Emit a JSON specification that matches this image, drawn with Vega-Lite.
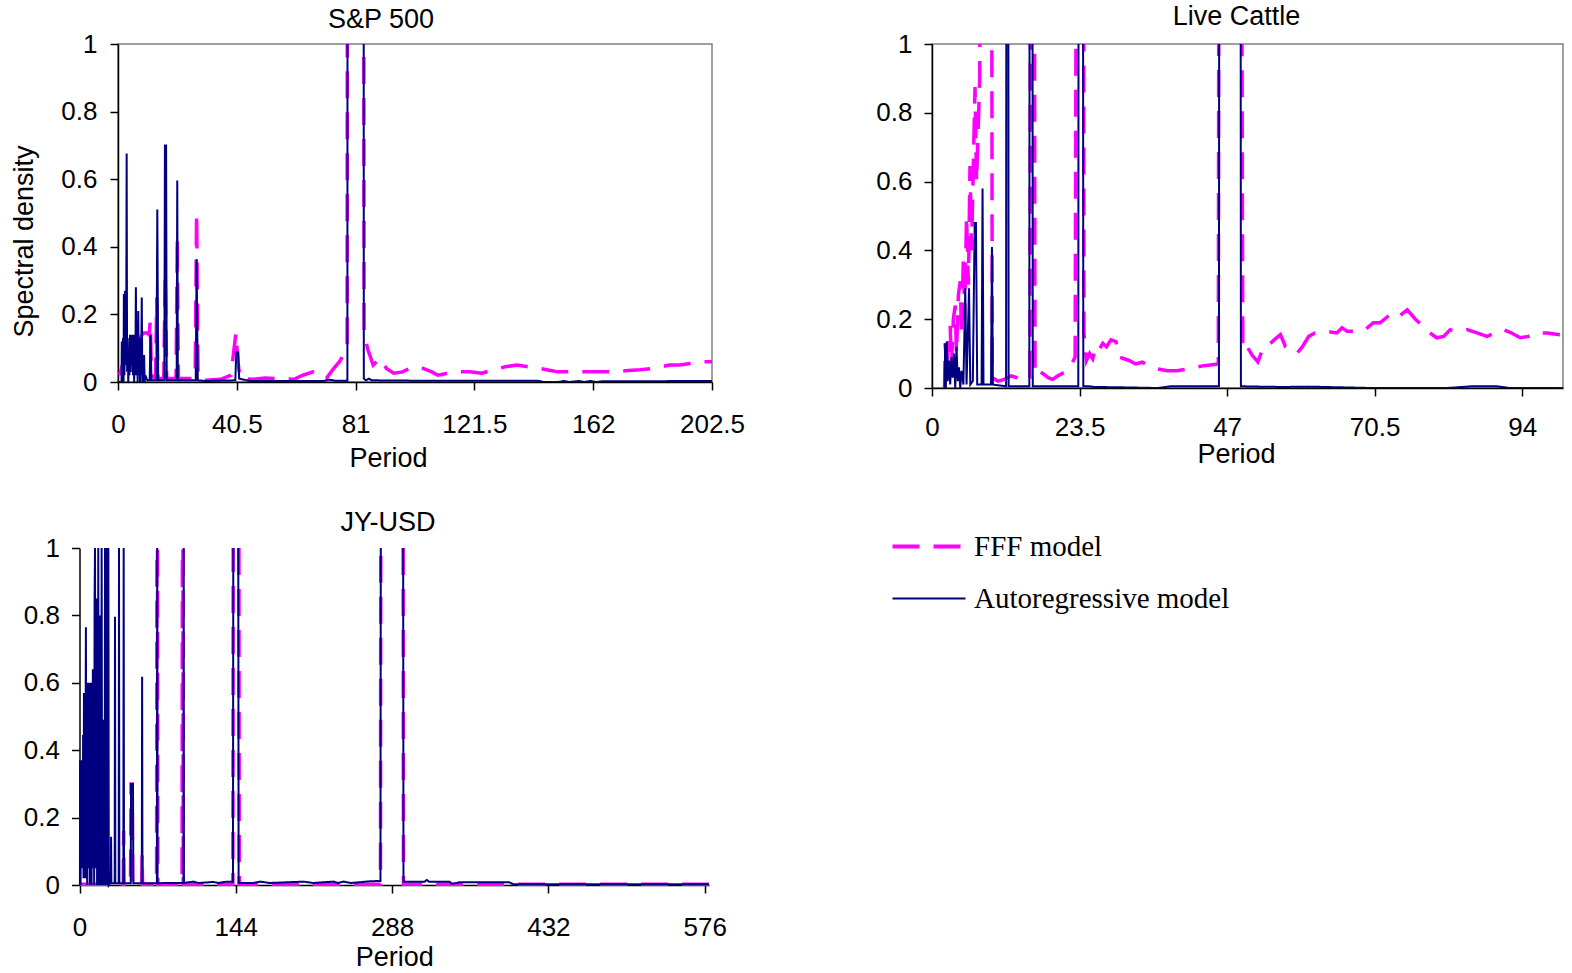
{
  "$schema": "https://vega.github.io/schema/vega-lite/v6.json",
  "padding": {"left": 10, "top": 2, "right": 5, "bottom": 0},
  "background": "white",
  "datasets": {
    "sp": [
      {"period":0.5,"model":"FFF model","density":0.02},{"period":1.5,"model":"FFF model","density":0.05},{"period":3,"model":"FFF model","density":0.08},{"period":4.5,"model":"FFF model","density":0.1},{"period":6,"model":"FFF model","density":0.11},{"period":7.5,"model":"FFF model","density":0.13},{"period":8.6,"model":"FFF model","density":0.145},{"period":10,"model":"FFF model","density":0.145},{"period":10.6,"model":"FFF model","density":0.14},{"period":11,"model":"FFF model","density":0.18},{"period":11.4,"model":"FFF model","density":0.02},{"period":12.8,"model":"FFF model","density":0.01},{"period":13.2,"model":"FFF model","density":0.25},{"period":13.6,"model":"FFF model","density":0.01},{"period":15.6,"model":"FFF model","density":0.01},{"period":16.1,"model":"FFF model","density":0.31},{"period":16.6,"model":"FFF model","density":0.01},{"period":19.8,"model":"FFF model","density":0.01},{"period":20.2,"model":"FFF model","density":0.43},{"period":20.6,"model":"FFF model","density":0.01},{"period":26.3,"model":"FFF model","density":0.01},{"period":26.8,"model":"FFF model","density":0.5},{"period":27.3,"model":"FFF model","density":0.01},{"period":30,"model":"FFF model","density":0.005},{"period":35,"model":"FFF model","density":0.008},{"period":38.5,"model":"FFF model","density":0.02},{"period":40.2,"model":"FFF model","density":0.145},{"period":40.9,"model":"FFF model","density":0.06},{"period":41.6,"model":"FFF model","density":0.01},{"period":46,"model":"FFF model","density":0.008},{"period":50,"model":"FFF model","density":0.012},{"period":55,"model":"FFF model","density":0.01},{"period":60,"model":"FFF model","density":0.008},{"period":63,"model":"FFF model","density":0.02},{"period":66.5,"model":"FFF model","density":0.03},{"period":69,"model":"FFF model","density":0.025},{"period":71,"model":"FFF model","density":0.01},{"period":73.5,"model":"FFF model","density":0.04},{"period":75.5,"model":"FFF model","density":0.06},{"period":77.5,"model":"FFF model","density":0.09},{"period":78.1,"model":"FFF model","density":0.1},{"period":78.3,"model":"FFF model","density":3},{"period":83.6,"model":"FFF model","density":3},{"period":83.9,"model":"FFF model","density":0.145},{"period":85.2,"model":"FFF model","density":0.095},{"period":87,"model":"FFF model","density":0.05},{"period":89.3,"model":"FFF model","density":0.07},{"period":91.5,"model":"FFF model","density":0.04},{"period":94,"model":"FFF model","density":0.026},{"period":97,"model":"FFF model","density":0.03},{"period":100.5,"model":"FFF model","density":0.045},{"period":104,"model":"FFF model","density":0.04},{"period":107,"model":"FFF model","density":0.03},{"period":109,"model":"FFF model","density":0.02},{"period":112,"model":"FFF model","density":0.025},{"period":116,"model":"FFF model","density":0.03},{"period":120,"model":"FFF model","density":0.03},{"period":124,"model":"FFF model","density":0.026},{"period":127.5,"model":"FFF model","density":0.035},{"period":132,"model":"FFF model","density":0.045},{"period":136,"model":"FFF model","density":0.05},{"period":140,"model":"FFF model","density":0.045},{"period":144,"model":"FFF model","density":0.04},{"period":147,"model":"FFF model","density":0.035},{"period":150,"model":"FFF model","density":0.03},{"period":155,"model":"FFF model","density":0.03},{"period":160,"model":"FFF model","density":0.03},{"period":165,"model":"FFF model","density":0.03},{"period":170,"model":"FFF model","density":0.03},{"period":174,"model":"FFF model","density":0.034},{"period":178,"model":"FFF model","density":0.036},{"period":182,"model":"FFF model","density":0.04},{"period":185,"model":"FFF model","density":0.045},{"period":188,"model":"FFF model","density":0.05},{"period":191.6,"model":"FFF model","density":0.05},{"period":195,"model":"FFF model","density":0.055},{"period":198,"model":"FFF model","density":0.06},{"period":202.5,"model":"FFF model","density":0.06},
      {"period":0,"model":"Autoregressive model","density":0},{"period":1.2,"model":"Autoregressive model","density":0},{"period":1.3,"model":"Autoregressive model","density":0.12},{"period":1.5,"model":"Autoregressive model","density":0.0},{"period":1.7,"model":"Autoregressive model","density":0.13},{"period":1.9,"model":"Autoregressive model","density":0.0},{"period":2.0,"model":"Autoregressive model","density":0.26},{"period":2.2,"model":"Autoregressive model","density":0.02},{"period":2.4,"model":"Autoregressive model","density":0.27},{"period":2.6,"model":"Autoregressive model","density":0.05},{"period":2.8,"model":"Autoregressive model","density":0.13},{"period":2.95,"model":"Autoregressive model","density":0.676},{"period":3.1,"model":"Autoregressive model","density":0.03},{"period":3.3,"model":"Autoregressive model","density":0.13},{"period":3.5,"model":"Autoregressive model","density":0.0},{"period":3.7,"model":"Autoregressive model","density":0.1},{"period":3.9,"model":"Autoregressive model","density":0.02},{"period":4.1,"model":"Autoregressive model","density":0.14},{"period":4.3,"model":"Autoregressive model","density":0.03},{"period":4.5,"model":"Autoregressive model","density":0.14},{"period":4.7,"model":"Autoregressive model","density":0.05},{"period":4.9,"model":"Autoregressive model","density":0.14},{"period":5.1,"model":"Autoregressive model","density":0.02},{"period":5.3,"model":"Autoregressive model","density":0.14},{"period":5.5,"model":"Autoregressive model","density":0.0},{"period":5.7,"model":"Autoregressive model","density":0.12},{"period":5.9,"model":"Autoregressive model","density":0.02},{"period":6.1,"model":"Autoregressive model","density":0.28},{"period":6.3,"model":"Autoregressive model","density":0.02},{"period":6.5,"model":"Autoregressive model","density":0.14},{"period":6.7,"model":"Autoregressive model","density":0.0},{"period":6.9,"model":"Autoregressive model","density":0.21},{"period":7.1,"model":"Autoregressive model","density":0.02},{"period":7.3,"model":"Autoregressive model","density":0.13},{"period":7.5,"model":"Autoregressive model","density":0.0},{"period":7.7,"model":"Autoregressive model","density":0.1},{"period":7.9,"model":"Autoregressive model","density":0.02},{"period":8.1,"model":"Autoregressive model","density":0.25},{"period":8.3,"model":"Autoregressive model","density":0.0},{"period":8.5,"model":"Autoregressive model","density":0.08},{"period":8.7,"model":"Autoregressive model","density":0.0},{"period":8.9,"model":"Autoregressive model","density":0.08},{"period":9.1,"model":"Autoregressive model","density":0.0},{"period":9.3,"model":"Autoregressive model","density":0.02},{"period":10,"model":"Autoregressive model","density":0.005},{"period":10.8,"model":"Autoregressive model","density":0.005},{"period":11.1,"model":"Autoregressive model","density":0.14},{"period":11.4,"model":"Autoregressive model","density":0.005},{"period":13.1,"model":"Autoregressive model","density":0.005},{"period":13.4,"model":"Autoregressive model","density":0.51},{"period":13.7,"model":"Autoregressive model","density":0.005},{"period":15.8,"model":"Autoregressive model","density":0.005},{"period":16.0,"model":"Autoregressive model","density":0.7},{"period":16.4,"model":"Autoregressive model","density":0.7},{"period":16.6,"model":"Autoregressive model","density":0.005},{"period":20.0,"model":"Autoregressive model","density":0.005},{"period":20.2,"model":"Autoregressive model","density":0.596},{"period":20.4,"model":"Autoregressive model","density":0.005},{"period":26.5,"model":"Autoregressive model","density":0.005},{"period":26.8,"model":"Autoregressive model","density":0.363},{"period":27.2,"model":"Autoregressive model","density":0.005},{"period":30,"model":"Autoregressive model","density":0.003},{"period":40,"model":"Autoregressive model","density":0.005},{"period":40.3,"model":"Autoregressive model","density":0.087},{"period":41.0,"model":"Autoregressive model","density":0.087},{"period":41.3,"model":"Autoregressive model","density":0.01},{"period":45,"model":"Autoregressive model","density":0.003},{"period":70,"model":"Autoregressive model","density":0.003},{"period":72,"model":"Autoregressive model","density":0.007},{"period":74,"model":"Autoregressive model","density":0.004},{"period":78.2,"model":"Autoregressive model","density":0.004},{"period":78.3,"model":"Autoregressive model","density":3},{"period":83.7,"model":"Autoregressive model","density":3},{"period":83.8,"model":"Autoregressive model","density":0.01},{"period":84.5,"model":"Autoregressive model","density":0.005},{"period":85.5,"model":"Autoregressive model","density":0.01},{"period":86.5,"model":"Autoregressive model","density":0.005},{"period":100,"model":"Autoregressive model","density":0.004},{"period":143,"model":"Autoregressive model","density":0.004},{"period":145,"model":"Autoregressive model","density":0.0},{"period":150,"model":"Autoregressive model","density":0.0},{"period":152,"model":"Autoregressive model","density":0.003},{"period":154,"model":"Autoregressive model","density":0.0},{"period":157,"model":"Autoregressive model","density":0.003},{"period":159,"model":"Autoregressive model","density":0.0},{"period":161,"model":"Autoregressive model","density":0.003},{"period":163,"model":"Autoregressive model","density":0.0},{"period":165,"model":"Autoregressive model","density":0.002},{"period":202.5,"model":"Autoregressive model","density":0.003}
    ],
    "lc": [
      {"period":2.0,"model":"FFF model","density":0},{"period":2.1,"model":"FFF model","density":0.13},{"period":2.4,"model":"FFF model","density":0.04},{"period":2.6,"model":"FFF model","density":0.15},{"period":2.9,"model":"FFF model","density":0.18},{"period":3.1,"model":"FFF model","density":0.06},{"period":3.4,"model":"FFF model","density":0.2},{"period":3.7,"model":"FFF model","density":0.24},{"period":3.9,"model":"FFF model","density":0.1},{"period":4.2,"model":"FFF model","density":0.27},{"period":4.5,"model":"FFF model","density":0.31},{"period":4.7,"model":"FFF model","density":0.15},{"period":5.0,"model":"FFF model","density":0.38},{"period":5.2,"model":"FFF model","density":0.2},{"period":5.5,"model":"FFF model","density":0.5},{"period":5.8,"model":"FFF model","density":0.3},{"period":6.05,"model":"FFF model","density":0.645},{"period":6.3,"model":"FFF model","density":0.4},{"period":6.85,"model":"FFF model","density":0.875},{"period":7.1,"model":"FFF model","density":0.6},{"period":7.6,"model":"FFF model","density":0.9},{"period":8.0,"model":"FFF model","density":3},{"period":9.4,"model":"FFF model","density":3},{"period":9.6,"model":"FFF model","density":0.03},{"period":10.5,"model":"FFF model","density":0.02},{"period":11.5,"model":"FFF model","density":0.025},{"period":12.6,"model":"FFF model","density":0.035},{"period":13.5,"model":"FFF model","density":0.03},{"period":14.5,"model":"FFF model","density":0.02},{"period":15.6,"model":"FFF model","density":0.03},{"period":15.8,"model":"FFF model","density":3},{"period":16.2,"model":"FFF model","density":3},{"period":16.4,"model":"FFF model","density":0.04},{"period":17,"model":"FFF model","density":0.05},{"period":17.8,"model":"FFF model","density":0.04},{"period":18.5,"model":"FFF model","density":0.03},{"period":19.2,"model":"FFF model","density":0.025},{"period":20,"model":"FFF model","density":0.035},{"period":21,"model":"FFF model","density":0.045},{"period":22,"model":"FFF model","density":0.06},{"period":22.8,"model":"FFF model","density":0.09},{"period":23.2,"model":"FFF model","density":3},{"period":24.1,"model":"FFF model","density":3},{"period":24.2,"model":"FFF model","density":0.16},{"period":24.6,"model":"FFF model","density":0.08},{"period":25.1,"model":"FFF model","density":0.1},{"period":25.6,"model":"FFF model","density":0.085},{"period":26.1,"model":"FFF model","density":0.12},{"period":26.6,"model":"FFF model","density":0.11},{"period":27.2,"model":"FFF model","density":0.13},{"period":27.8,"model":"FFF model","density":0.12},{"period":28.5,"model":"FFF model","density":0.14},{"period":29.3,"model":"FFF model","density":0.135},{"period":29.8,"model":"FFF model","density":0.09},{"period":30.6,"model":"FFF model","density":0.085},{"period":31.4,"model":"FFF model","density":0.08},{"period":32.4,"model":"FFF model","density":0.07},{"period":33.5,"model":"FFF model","density":0.075},{"period":34.5,"model":"FFF model","density":0.065},{"period":36,"model":"FFF model","density":0.055},{"period":37.5,"model":"FFF model","density":0.05},{"period":39,"model":"FFF model","density":0.05},{"period":40.6,"model":"FFF model","density":0.055},{"period":42,"model":"FFF model","density":0.06},{"period":43.3,"model":"FFF model","density":0.065},{"period":44.3,"model":"FFF model","density":0.067},{"period":45.6,"model":"FFF model","density":0.07},{"period":45.8,"model":"FFF model","density":3},{"period":49.1,"model":"FFF model","density":3},{"period":49.5,"model":"FFF model","density":0.11},{"period":50.2,"model":"FFF model","density":0.12},{"period":51.0,"model":"FFF model","density":0.095},{"period":51.9,"model":"FFF model","density":0.076},{"period":52.8,"model":"FFF model","density":0.12},{"period":53.6,"model":"FFF model","density":0.125},{"period":54.5,"model":"FFF model","density":0.14},{"period":55.5,"model":"FFF model","density":0.155},{"period":56.3,"model":"FFF model","density":0.12},{"period":57.2,"model":"FFF model","density":0.11},{"period":58.1,"model":"FFF model","density":0.1},{"period":59,"model":"FFF model","density":0.12},{"period":60,"model":"FFF model","density":0.15},{"period":61,"model":"FFF model","density":0.16},{"period":62,"model":"FFF model","density":0.16},{"period":63.4,"model":"FFF model","density":0.163},{"period":64.5,"model":"FFF model","density":0.16},{"period":65.3,"model":"FFF model","density":0.175},{"period":66.1,"model":"FFF model","density":0.165},{"period":67.9,"model":"FFF model","density":0.165},{"period":69,"model":"FFF model","density":0.17},{"period":70.3,"model":"FFF model","density":0.19},{"period":71.4,"model":"FFF model","density":0.19},{"period":72.4,"model":"FFF model","density":0.205},{"period":73.4,"model":"FFF model","density":0.22},{"period":74.5,"model":"FFF model","density":0.21},{"period":75.7,"model":"FFF model","density":0.227},{"period":77,"model":"FFF model","density":0.2},{"period":78.3,"model":"FFF model","density":0.178},{"period":79.3,"model":"FFF model","density":0.16},{"period":80.4,"model":"FFF model","density":0.146},{"period":81.5,"model":"FFF model","density":0.15},{"period":82.5,"model":"FFF model","density":0.169},{"period":83.8,"model":"FFF model","density":0.165},{"period":85.2,"model":"FFF model","density":0.17},{"period":86.8,"model":"FFF model","density":0.16},{"period":88.4,"model":"FFF model","density":0.15},{"period":89.7,"model":"FFF model","density":0.16},{"period":91,"model":"FFF model","density":0.17},{"period":92.3,"model":"FFF model","density":0.16},{"period":93.7,"model":"FFF model","density":0.146},{"period":95,"model":"FFF model","density":0.15},{"period":96,"model":"FFF model","density":0.16},{"period":98,"model":"FFF model","density":0.16},{"period":100,"model":"FFF model","density":0.155},
      {"period":2.0,"model":"Autoregressive model","density":0},{"period":2.1,"model":"Autoregressive model","density":0.13},{"period":2.2,"model":"Autoregressive model","density":0.0},{"period":2.35,"model":"Autoregressive model","density":0.135},{"period":2.5,"model":"Autoregressive model","density":0.02},{"period":2.7,"model":"Autoregressive model","density":0.08},{"period":2.9,"model":"Autoregressive model","density":0.01},{"period":3.1,"model":"Autoregressive model","density":0.09},{"period":3.3,"model":"Autoregressive model","density":0.03},{"period":3.5,"model":"Autoregressive model","density":0.1},{"period":3.7,"model":"Autoregressive model","density":0.0},{"period":3.9,"model":"Autoregressive model","density":0.12},{"period":4.1,"model":"Autoregressive model","density":0.02},{"period":4.3,"model":"Autoregressive model","density":0.06},{"period":4.5,"model":"Autoregressive model","density":0.0},{"period":4.7,"model":"Autoregressive model","density":0.05},{"period":5.0,"model":"Autoregressive model","density":0.01},{"period":5.3,"model":"Autoregressive model","density":0.29},{"period":5.5,"model":"Autoregressive model","density":0.01},{"period":5.9,"model":"Autoregressive model","density":0.29},{"period":6.1,"model":"Autoregressive model","density":0.01},{"period":6.5,"model":"Autoregressive model","density":0.02},{"period":6.8,"model":"Autoregressive model","density":0.48},{"period":7.0,"model":"Autoregressive model","density":0.48},{"period":7.2,"model":"Autoregressive model","density":0.01},{"period":7.9,"model":"Autoregressive model","density":0.01},{"period":8.05,"model":"Autoregressive model","density":0.58},{"period":8.2,"model":"Autoregressive model","density":0.01},{"period":9.4,"model":"Autoregressive model","density":0.01},{"period":9.55,"model":"Autoregressive model","density":0.41},{"period":9.7,"model":"Autoregressive model","density":0.01},{"period":11.8,"model":"Autoregressive model","density":0.005},{"period":11.9,"model":"Autoregressive model","density":3},{"period":12.1,"model":"Autoregressive model","density":3},{"period":12.2,"model":"Autoregressive model","density":0.005},{"period":15.5,"model":"Autoregressive model","density":0.005},{"period":15.6,"model":"Autoregressive model","density":3},{"period":15.95,"model":"Autoregressive model","density":3},{"period":16.05,"model":"Autoregressive model","density":0.005},{"period":23.3,"model":"Autoregressive model","density":0.005},{"period":23.4,"model":"Autoregressive model","density":3},{"period":24.0,"model":"Autoregressive model","density":3},{"period":24.1,"model":"Autoregressive model","density":0.005},{"period":25,"model":"Autoregressive model","density":0.005},{"period":26,"model":"Autoregressive model","density":0.003},{"period":30,"model":"Autoregressive model","density":0.002},{"period":36,"model":"Autoregressive model","density":0.0},{"period":38,"model":"Autoregressive model","density":0.005},{"period":45.7,"model":"Autoregressive model","density":0.005},{"period":45.8,"model":"Autoregressive model","density":3},{"period":49.1,"model":"Autoregressive model","density":3},{"period":49.2,"model":"Autoregressive model","density":0.005},{"period":52,"model":"Autoregressive model","density":0.004},{"period":56,"model":"Autoregressive model","density":0.003},{"period":60,"model":"Autoregressive model","density":0.004},{"period":70,"model":"Autoregressive model","density":0.0},{"period":82,"model":"Autoregressive model","density":0.0},{"period":86,"model":"Autoregressive model","density":0.005},{"period":90,"model":"Autoregressive model","density":0.005},{"period":92,"model":"Autoregressive model","density":0.0},{"period":100.5,"model":"Autoregressive model","density":0.0}
    ],
    "jy": [
      {"period":0.5,"model":"FFF model","density":0.002},{"period":40.3,"model":"FFF model","density":0.002},{"period":40.7,"model":"FFF model","density":0.16},{"period":41.1,"model":"FFF model","density":0.002},{"period":47.0,"model":"FFF model","density":0.002},{"period":47.5,"model":"FFF model","density":0.3},{"period":48.5,"model":"FFF model","density":0.3},{"period":49.0,"model":"FFF model","density":0.002},{"period":57.3,"model":"FFF model","density":0.002},{"period":57.7,"model":"FFF model","density":0.09},{"period":58.1,"model":"FFF model","density":0.002},{"period":71.0,"model":"FFF model","density":0.002},{"period":71.3,"model":"FFF model","density":3},{"period":71.9,"model":"FFF model","density":3},{"period":72.2,"model":"FFF model","density":0.002},{"period":94.5,"model":"FFF model","density":0.002},{"period":94.8,"model":"FFF model","density":3},{"period":95.3,"model":"FFF model","density":3},{"period":95.6,"model":"FFF model","density":0.002},{"period":141.3,"model":"FFF model","density":0.002},{"period":141.6,"model":"FFF model","density":3},{"period":141.7,"model":"FFF model","density":null},{"period":146.8,"model":"FFF model","density":null},{"period":146.9,"model":"FFF model","density":3},{"period":147.2,"model":"FFF model","density":0.002},{"period":277.3,"model":"FFF model","density":0.002},{"period":277.6,"model":"FFF model","density":3},{"period":277.7,"model":"FFF model","density":null},{"period":298.1,"model":"FFF model","density":null},{"period":298.2,"model":"FFF model","density":3},{"period":298.5,"model":"FFF model","density":0.002},{"period":580,"model":"FFF model","density":0.002},
      {"period":0.4,"model":"Autoregressive model","density":0},{"period":0.5,"model":"Autoregressive model","density":0.37},{"period":1.0,"model":"Autoregressive model","density":0.0},{"period":1.5,"model":"Autoregressive model","density":0.37},{"period":2.0,"model":"Autoregressive model","density":0.05},{"period":2.5,"model":"Autoregressive model","density":0.37},{"period":3.0,"model":"Autoregressive model","density":0.1},{"period":3.3,"model":"Autoregressive model","density":0.445},{"period":3.7,"model":"Autoregressive model","density":0.02},{"period":4.1,"model":"Autoregressive model","density":0.57},{"period":4.5,"model":"Autoregressive model","density":0.1},{"period":4.9,"model":"Autoregressive model","density":0.57},{"period":5.3,"model":"Autoregressive model","density":0.02},{"period":5.9,"model":"Autoregressive model","density":0.765},{"period":6.3,"model":"Autoregressive model","density":0.1},{"period":6.7,"model":"Autoregressive model","density":0.6},{"period":7.1,"model":"Autoregressive model","density":0.0},{"period":7.5,"model":"Autoregressive model","density":0.51},{"period":7.9,"model":"Autoregressive model","density":0.05},{"period":8.3,"model":"Autoregressive model","density":0.6},{"period":8.7,"model":"Autoregressive model","density":0.1},{"period":9.1,"model":"Autoregressive model","density":0.6},{"period":9.5,"model":"Autoregressive model","density":0.0},{"period":9.9,"model":"Autoregressive model","density":0.57},{"period":10.3,"model":"Autoregressive model","density":0.1},{"period":10.7,"model":"Autoregressive model","density":0.6},{"period":11.1,"model":"Autoregressive model","density":0.0},{"period":11.5,"model":"Autoregressive model","density":0.57},{"period":11.9,"model":"Autoregressive model","density":0.05},{"period":12.3,"model":"Autoregressive model","density":0.64},{"period":12.7,"model":"Autoregressive model","density":0.1},{"period":13.1,"model":"Autoregressive model","density":0.64},{"period":13.5,"model":"Autoregressive model","density":0.0},{"period":13.9,"model":"Autoregressive model","density":0.85},{"period":14.3,"model":"Autoregressive model","density":3},{"period":14.7,"model":"Autoregressive model","density":0.05},{"period":15.1,"model":"Autoregressive model","density":0.8},{"period":15.5,"model":"Autoregressive model","density":0.1},{"period":15.8,"model":"Autoregressive model","density":0.85},{"period":16.2,"model":"Autoregressive model","density":0.0},{"period":16.6,"model":"Autoregressive model","density":0.8},{"period":17.0,"model":"Autoregressive model","density":0.1},{"period":17.3,"model":"Autoregressive model","density":3},{"period":17.7,"model":"Autoregressive model","density":0.0},{"period":18.1,"model":"Autoregressive model","density":0.8},{"period":18.5,"model":"Autoregressive model","density":0.1},{"period":18.9,"model":"Autoregressive model","density":0.8},{"period":19.3,"model":"Autoregressive model","density":0.0},{"period":19.7,"model":"Autoregressive model","density":0.7},{"period":20.1,"model":"Autoregressive model","density":0.1},{"period":20.4,"model":"Autoregressive model","density":3},{"period":20.8,"model":"Autoregressive model","density":0.0},{"period":21.2,"model":"Autoregressive model","density":0.49},{"period":21.6,"model":"Autoregressive model","density":0.05},{"period":22.0,"model":"Autoregressive model","density":0.49},{"period":22.4,"model":"Autoregressive model","density":0.0},{"period":22.8,"model":"Autoregressive model","density":0.4},{"period":23.2,"model":"Autoregressive model","density":0.05},{"period":23.5,"model":"Autoregressive model","density":3},{"period":23.9,"model":"Autoregressive model","density":0.0},{"period":24.3,"model":"Autoregressive model","density":0.3},{"period":24.7,"model":"Autoregressive model","density":0.05},{"period":25.0,"model":"Autoregressive model","density":3},{"period":25.4,"model":"Autoregressive model","density":0.0},{"period":25.8,"model":"Autoregressive model","density":0.2},{"period":26.2,"model":"Autoregressive model","density":0.0},{"period":26.6,"model":"Autoregressive model","density":3},{"period":27.0,"model":"Autoregressive model","density":0.0},{"period":28.0,"model":"Autoregressive model","density":0.005},{"period":28.8,"model":"Autoregressive model","density":0.005},{"period":29.1,"model":"Autoregressive model","density":0.143},{"period":29.4,"model":"Autoregressive model","density":0.005},{"period":32.4,"model":"Autoregressive model","density":0.005},{"period":32.7,"model":"Autoregressive model","density":0.796},{"period":33.0,"model":"Autoregressive model","density":0.005},{"period":36.1,"model":"Autoregressive model","density":0.005},{"period":36.4,"model":"Autoregressive model","density":3},{"period":36.7,"model":"Autoregressive model","density":0.005},{"period":40.4,"model":"Autoregressive model","density":0.005},{"period":40.7,"model":"Autoregressive model","density":3},{"period":41.0,"model":"Autoregressive model","density":0.005},{"period":47.2,"model":"Autoregressive model","density":0.005},{"period":47.5,"model":"Autoregressive model","density":0.3},{"period":49.3,"model":"Autoregressive model","density":0.3},{"period":49.6,"model":"Autoregressive model","density":0.005},{"period":57.4,"model":"Autoregressive model","density":0.005},{"period":57.7,"model":"Autoregressive model","density":0.618},{"period":58.0,"model":"Autoregressive model","density":0.005},{"period":71.3,"model":"Autoregressive model","density":0.005},{"period":71.6,"model":"Autoregressive model","density":3},{"period":71.9,"model":"Autoregressive model","density":0.005},{"period":80,"model":"Autoregressive model","density":0.006},{"period":95.8,"model":"Autoregressive model","density":0.006},{"period":96.0,"model":"Autoregressive model","density":3},{"period":96.2,"model":"Autoregressive model","density":0.006},{"period":104.8,"model":"Autoregressive model","density":0.01},{"period":110,"model":"Autoregressive model","density":0.006},{"period":123.2,"model":"Autoregressive model","density":0.009},{"period":128,"model":"Autoregressive model","density":0.006},{"period":135.5,"model":"Autoregressive model","density":0.01},{"period":140,"model":"Autoregressive model","density":0.01},{"period":141.4,"model":"Autoregressive model","density":0.01},{"period":141.7,"model":"Autoregressive model","density":3},{"period":141.8,"model":"Autoregressive model","density":null},{"period":146.2,"model":"Autoregressive model","density":null},{"period":146.3,"model":"Autoregressive model","density":3},{"period":146.6,"model":"Autoregressive model","density":0.006},{"period":160,"model":"Autoregressive model","density":0.006},{"period":166.7,"model":"Autoregressive model","density":0.01},{"period":175,"model":"Autoregressive model","density":0.006},{"period":206.6,"model":"Autoregressive model","density":0.01},{"period":215,"model":"Autoregressive model","density":0.006},{"period":234.3,"model":"Autoregressive model","density":0.01},{"period":238,"model":"Autoregressive model","density":0.006},{"period":243.5,"model":"Autoregressive model","density":0.01},{"period":250,"model":"Autoregressive model","density":0.006},{"period":268,"model":"Autoregressive model","density":0.011},{"period":277.3,"model":"Autoregressive model","density":0.012},{"period":277.6,"model":"Autoregressive model","density":3},{"period":277.7,"model":"Autoregressive model","density":null},{"period":298.1,"model":"Autoregressive model","density":null},{"period":298.2,"model":"Autoregressive model","density":3},{"period":298.5,"model":"Autoregressive model","density":0.01},{"period":318,"model":"Autoregressive model","density":0.01},{"period":320,"model":"Autoregressive model","density":0.015},{"period":322,"model":"Autoregressive model","density":0.01},{"period":341,"model":"Autoregressive model","density":0.01},{"period":343,"model":"Autoregressive model","density":0.003},{"period":350,"model":"Autoregressive model","density":0.008},{"period":396,"model":"Autoregressive model","density":0.008},{"period":400,"model":"Autoregressive model","density":0.002},{"period":580,"model":"Autoregressive model","density":0.002}
    ]
  },
  "concat": [
    {
      "hconcat": [
        {
          "width": 594, "height": 338,
          "title": {"text": "S&P 500", "dx": -34, "offset": -3, "frame": "group"},
          "data": {"name": "sp"},
          "encoding": {
            "x": {"field": "period", "type": "quantitative", "scale": {"domain": [0, 202.5], "nice": false, "zero": false},
                  "axis": {"values": [0, 40.5, 81, 121.5, 162, 202.5], "labelExpr": "'' + datum.value", "title": "Period", "labelPadding": 21, "titlePadding": 8, "titleX": 270}},
            "y": {"field": "density", "type": "quantitative", "scale": {"domain": [0, 1], "nice": false},
                  "axis": {"values": [0, 0.2, 0.4, 0.6, 0.8, 1], "labelExpr": "'' + datum.value", "title": "Spectral density", "labelPadding": 13, "titlePadding": 22, "titleY": 197}},
            "color": {"field": "model", "type": "nominal", "scale": {"domain": ["FFF model", "Autoregressive model"], "range": ["#ff00ff", "#000080"]},
                      "legend": {"title": null, "orient": "none", "legendX": 796.5, "legendY": 488, "encode": {"symbols": {"update": {"strokeWidth": {"signal": "datum.value === 'FFF model' ? 4 : 2"}}}}}},
            "strokeDash": {"field": "model", "type": "nominal", "scale": {"domain": ["FFF model", "Autoregressive model"], "range": [[27, 14], [1, 0]]},
                      "legend": {"title": null, "orient": "none", "legendX": 796.5, "legendY": 488, "encode": {"symbols": {"update": {"strokeWidth": {"signal": "datum.value === 'FFF model' ? 4 : 2"}}}}}}
          },
          "layer": [
            {"transform": [{"filter": "datum.model === 'FFF model'"}], "mark": {"type": "line", "clip": true, "strokeWidth": 3.5}},
            {"transform": [{"filter": "datum.model === 'Autoregressive model'"}], "mark": {"type": "line", "clip": true, "strokeWidth": 2}}
          ]
        },
        {
          "width": 631, "height": 344,
          "title": {"text": "Live Cattle", "dx": -11, "offset": 0, "frame": "group"},
          "data": {"name": "lc"},
          "encoding": {
            "x": {"field": "period", "type": "quantitative", "scale": {"domain": [0, 100.5], "nice": false, "zero": false},
                  "axis": {"values": [0, 23.5, 47, 70.5, 94], "labelExpr": "'' + datum.value", "title": "Period", "labelPadding": 18, "titlePadding": 1, "titleX": 304}},
            "y": {"field": "density", "type": "quantitative", "scale": {"domain": [0, 1], "nice": false},
                  "axis": {"values": [0, 0.2, 0.4, 0.6, 0.8, 1], "labelExpr": "'' + datum.value", "title": null, "labelPadding": 12}},
            "color": {"field": "model", "type": "nominal", "scale": {"domain": ["FFF model", "Autoregressive model"], "range": ["#ff00ff", "#000080"]},
                      "legend": {"title": null, "orient": "none", "legendX": 796.5, "legendY": 488, "encode": {"symbols": {"update": {"strokeWidth": {"signal": "datum.value === 'FFF model' ? 4 : 2"}}}}}},
            "strokeDash": {"field": "model", "type": "nominal", "scale": {"domain": ["FFF model", "Autoregressive model"], "range": [[27, 14], [1, 0]]},
                      "legend": {"title": null, "orient": "none", "legendX": 796.5, "legendY": 488, "encode": {"symbols": {"update": {"strokeWidth": {"signal": "datum.value === 'FFF model' ? 4 : 2"}}}}}}
          },
          "layer": [
            {"transform": [{"filter": "datum.model === 'FFF model'"}], "mark": {"type": "line", "clip": true, "strokeWidth": 3.5}},
            {"transform": [{"filter": "datum.model === 'Autoregressive model'"}], "mark": {"type": "line", "clip": true, "strokeWidth": 2}}
          ]
        }
      ],
      "spacing": 129
    },
    {
      "hconcat": [
        {
          "width": 591, "height": 337,
          "view": {"stroke": null},
          "title": {"text": "JY-USD", "dx": -25.5, "offset": -1.5, "frame": "group"},
          "data": {"name": "jy"},
          "encoding": {
            "x": {"field": "period", "type": "quantitative", "scale": {"domain": [0, 580], "range": [-38.5, 591], "nice": false, "zero": false},
                  "axis": {"values": [0, 144, 288, 432, 576], "labelExpr": "'' + datum.value", "title": "Period", "labelPadding": 21, "titlePadding": 4}},
            "y": {"field": "density", "type": "quantitative", "scale": {"domain": [0, 1], "nice": false, "clamp": true},
                  "axis": {"values": [0, 0.2, 0.4, 0.6, 0.8, 1], "labelExpr": "'' + datum.value", "title": null, "labelPadding": 12, "offset": 38.5}}
          },
          "layer": [
            {"transform": [{"filter": "datum.model === 'FFF model'"}], "mark": {"type": "line", "strokeWidth": 3.5, "invalid": "break-paths-show-domains"},
             "encoding": {
               "color": {"field": "model", "type": "nominal", "scale": {"domain": ["FFF model", "Autoregressive model"], "range": ["#ff00ff", "#000080"]},
                         "legend": {"title": null, "orient": "none", "legendX": 796.5, "legendY": 488, "encode": {"symbols": {"update": {"strokeWidth": {"signal": "datum.value === 'FFF model' ? 4 : 2"}}}}}},
               "strokeDash": {"field": "model", "type": "nominal", "scale": {"domain": ["FFF model", "Autoregressive model"], "range": [[27, 14], [1, 0]]},
                         "legend": {"title": null, "orient": "none", "legendX": 796.5, "legendY": 488, "encode": {"symbols": {"update": {"strokeWidth": {"signal": "datum.value === 'FFF model' ? 4 : 2"}}}}}}
             }},
            {"transform": [{"filter": "datum.model === 'Autoregressive model'"}], "mark": {"type": "line", "strokeWidth": 2, "invalid": "break-paths-show-domains"},
             "encoding": {
               "color": {"field": "model", "type": "nominal", "scale": {"domain": ["FFF model", "Autoregressive model"], "range": ["#ff00ff", "#000080"]},
                         "legend": {"title": null, "orient": "none", "legendX": 796.5, "legendY": 488, "encode": {"symbols": {"update": {"strokeWidth": {"signal": "datum.value === 'FFF model' ? 4 : 2"}}}}}},
               "strokeDash": {"field": "model", "type": "nominal", "scale": {"domain": ["FFF model", "Autoregressive model"], "range": [[27, 14], [1, 0]]},
                         "legend": {"title": null, "orient": "none", "legendX": 796.5, "legendY": 488, "encode": {"symbols": {"update": {"strokeWidth": {"signal": "datum.value === 'FFF model' ? 4 : 2"}}}}}}
             }},
            {"data": {"values": [{}]}, "mark": {"type": "rule", "color": "#808080", "strokeWidth": 1.5},
             "encoding": {"x": {"datum": 0, "type": "quantitative"}, "x2": {"datum": 580}, "y": {"datum": 1, "type": "quantitative"}}},
            {"data": {"values": [{}]}, "mark": {"type": "rule", "color": "#808080", "strokeWidth": 1.5},
             "encoding": {"x": {"datum": 580, "type": "quantitative"}, "y": {"datum": 0, "type": "quantitative"}, "y2": {"datum": 1}}}
          ]
        }
      ]
    }
  ],
  "columns": 1,
  "spacing": 36,
  "config": {
    "font": "Liberation Sans",
    "view": {"stroke": "#808080", "strokeWidth": 1.5},
    "axis": {"labelFont": "Liberation Sans", "labelFontSize": 26, "labelColor": "#000000", "titleFont": "Liberation Sans", "titleFontSize": 27, "titleFontWeight": "normal", "titleColor": "#000000", "domainColor": "#000000", "domainWidth": 1.5, "tickColor": "#000000", "tickWidth": 1.5, "tickSize": 8, "grid": false, "labelFlush": false, "labelOverlap": false},
    "title": {"font": "Liberation Sans", "fontSize": 27, "fontWeight": "normal", "color": "#000000", "anchor": "middle"},
    "legend": {"labelFont": "Liberation Serif", "labelFontSize": 29, "labelColor": "#000000", "symbolType": "M-1.46,0H1.46", "symbolSize": 2500, "symbolStrokeWidth": 3, "labelOffset": 30.5, "rowPadding": 22, "padding": 0, "labelLimit": 400}
  }
}
